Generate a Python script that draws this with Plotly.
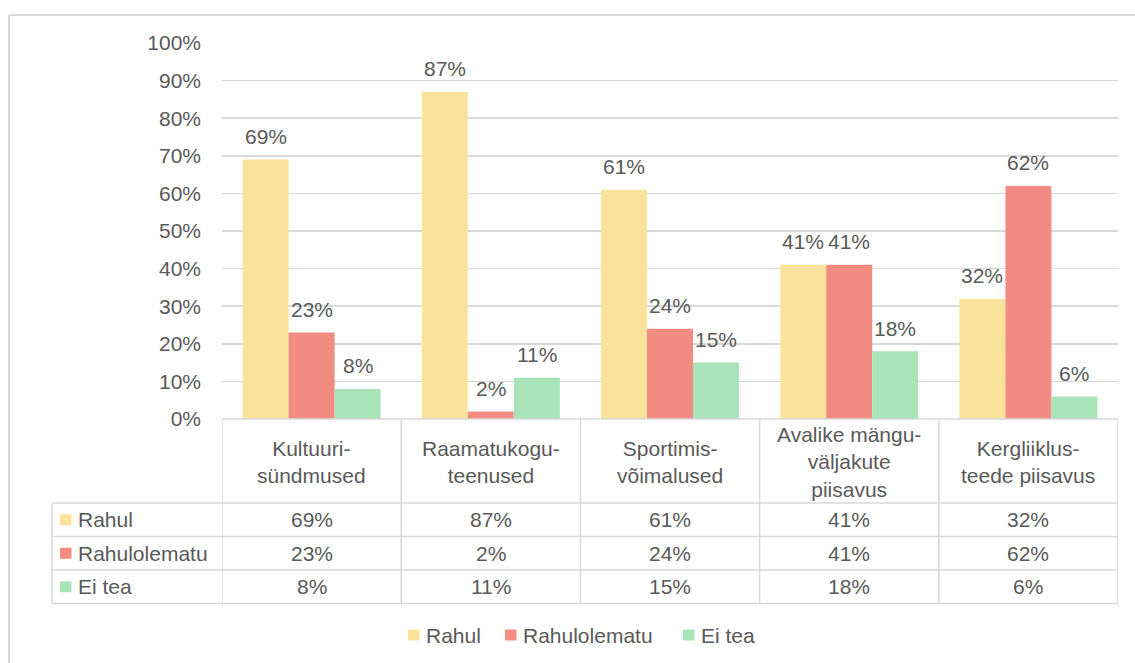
import plotly.graph_objects as go

# ---------------- data ----------------
categories = ["Kultuuri-<br>sündmused", "Raamatukogu-<br>teenused", "Sportimis-<br>võimalused",
              "Avalike mängu-<br>väljakute<br>piisavus", "Kergliiklus-<br>teede piisavus"]
series_names = ["Rahul", "Rahulolematu", "Ei tea"]
rahul = [0.69, 0.87, 0.61, 0.41, 0.32]
rahulolematu = [0.23, 0.02, 0.24, 0.41, 0.62]
ei_tea = [0.08, 0.11, 0.15, 0.18, 0.06]
y_ticks = [0, 0.1, 0.2, 0.3, 0.4, 0.5, 0.6, 0.7, 0.8, 0.9, 1.0]
y_tick_labels = ["0%", "10%", "20%", "30%", "40%", "50%", "60%", "70%", "80%", "90%", "100%"]

series_values = [rahul, rahulolematu, ei_tea]
colors = ["#FAE29A", "#F28C82", "#A8E4B7"]

# ---------------- layout constants (pixels) ----------------
W, H = 1135, 663
L, R, T, B = 222, 1118, 43, 419
FONT = "Liberation Sans, Arial, sans-serif"
TXT = "#595959"
GRID = "#d9d9d9"
FS = 21
BARGAP = 0.23
LEGEND_Y = 635
LEGEND_SWATCH_X = [408, 505, 683]  # left edge of each legend swatch (px)


def px_x(px):
    return (px - L) / (R - L)


def px_y(py):
    return (B - py) / (B - T)


fig = go.Figure()
for name, vals, col in zip(series_names, series_values, colors):
    fig.add_trace(go.Bar(x=categories, y=vals, name=name, marker=dict(color=col, line=dict(width=0)),
                         hoverinfo="skip", showlegend=False))

shapes = []
annotations = []

# outer frame of chart area (top and left visible)
shapes.append(dict(type="line", xref="paper", yref="paper", x0=px_x(9), x1=px_x(W + 5),
                   y0=px_y(15), y1=px_y(15), line=dict(color=GRID, width=2)))
shapes.append(dict(type="line", xref="paper", yref="paper", x0=px_x(9), x1=px_x(9),
                   y0=px_y(15), y1=px_y(H + 5), line=dict(color=GRID, width=2)))

# ---------------- data table ----------------
header_top, header_bot = 419, 503
row_edges = [503, 536.5, 570, 603.5]
n = len(categories)
tl = dict(color=GRID, width=1.5)

# header top line (0% line)
shapes.append(dict(type="line", xref="x", yref="paper", x0=-0.5, x1=n - 0.5,
                   y0=px_y(header_top), y1=px_y(header_top), line=tl))
for ry in row_edges:
    shapes.append(dict(type="line", xref="paper", yref="paper", x0=px_x(52), x1=1.0,
                       y0=px_y(ry), y1=px_y(ry), line=tl))
for i in range(n + 1):
    shapes.append(dict(type="line", xref="x", yref="paper", x0=i - 0.5, x1=i - 0.5,
                       y0=px_y(header_top), y1=px_y(row_edges[-1]), line=tl))
shapes.append(dict(type="line", xref="paper", yref="paper", x0=px_x(52), x1=px_x(52),
                   y0=px_y(row_edges[0]), y1=px_y(row_edges[-1]), line=tl))

# header labels
for i, cat in enumerate(categories):
    annotations.append(dict(x=i, y=px_y((header_top + header_bot) / 2 + 1), xref="x", yref="paper",
                            text=cat, showarrow=False, xanchor="center", yanchor="middle",
                            font=dict(family=FONT, size=FS, color=TXT)))

# rows
for r, (name, vals, col) in enumerate(zip(series_names, series_values, colors)):
    cy = (row_edges[r] + row_edges[r + 1]) / 2
    shapes.append(dict(type="rect", xref="paper", yref="paper", x0=px_x(60), x1=px_x(71.5),
                       y0=px_y(cy + 5.5), y1=px_y(cy - 5.5), fillcolor=col, line=dict(width=0)))
    annotations.append(dict(x=px_x(76), y=px_y(cy), xref="paper", yref="paper", text=name,
                            showarrow=False, xanchor="left", yanchor="middle",
                            font=dict(family=FONT, size=FS, color=TXT)))
    for i, v in enumerate(vals):
        annotations.append(dict(x=i, y=px_y(cy), xref="x", yref="paper", text=f"{round(v * 100)}%",
                                showarrow=False, xanchor="center", yanchor="middle",
                                font=dict(family=FONT, size=FS, color=TXT)))

# data labels above bars
bw = (1 - BARGAP) / len(series_names)
for k, vals in enumerate(series_values):
    off = (k - (len(series_names) - 1) / 2) * bw
    for i, v in enumerate(vals):
        annotations.append(dict(x=i + off, y=v, xref="x", yref="y", text=f"{round(v * 100)}%",
                                showarrow=False, xanchor="center", yanchor="middle", yshift=23,
                                font=dict(family=FONT, size=FS, color=TXT)))

# legend (bottom, centred)
for name, col, sx in zip(series_names, colors, LEGEND_SWATCH_X):
    shapes.append(dict(type="rect", xref="paper", yref="paper", x0=px_x(sx), x1=px_x(sx + 11.5),
                       y0=px_y(LEGEND_Y + 5.5), y1=px_y(LEGEND_Y - 5.5), fillcolor=col, line=dict(width=0)))
    annotations.append(dict(x=px_x(sx + 16), y=px_y(LEGEND_Y), xref="paper", yref="paper", text=name,
                            showarrow=False, xanchor="left", yanchor="middle",
                            font=dict(family=FONT, size=FS, color=TXT)))

fig.update_layout(
    width=W, height=H,
    margin=dict(l=L, r=W - R, t=T, b=H - B, pad=0, autoexpand=False),
    paper_bgcolor="white", plot_bgcolor="white",
    barmode="group", bargap=BARGAP, bargroupgap=0,
    font=dict(family=FONT, size=FS, color=TXT),
    showlegend=False,
    xaxis=dict(range=[-0.5, n - 0.5], showticklabels=False, showgrid=False, zeroline=False,
               showline=False, ticks=""),
    yaxis=dict(range=[0, 1], tickvals=y_ticks, ticktext=y_tick_labels, showgrid=True,
               gridcolor=GRID, gridwidth=1.5, zeroline=False, showline=False, ticks="",
               ticklabelstandoff=20, tickfont=dict(family=FONT, size=FS, color=TXT)),
    shapes=shapes, annotations=annotations,
)

fig.write_html(
    "out.html",
    config={"displayModeBar": False, "staticPlot": True},
    post_script=("document.documentElement.style.margin='0';document.documentElement.style.padding='0';"
                 "document.documentElement.style.overflow='hidden';"
                 "document.body.style.margin='0';document.body.style.padding='0';"
                 "document.body.style.overflow='hidden';"),
)
